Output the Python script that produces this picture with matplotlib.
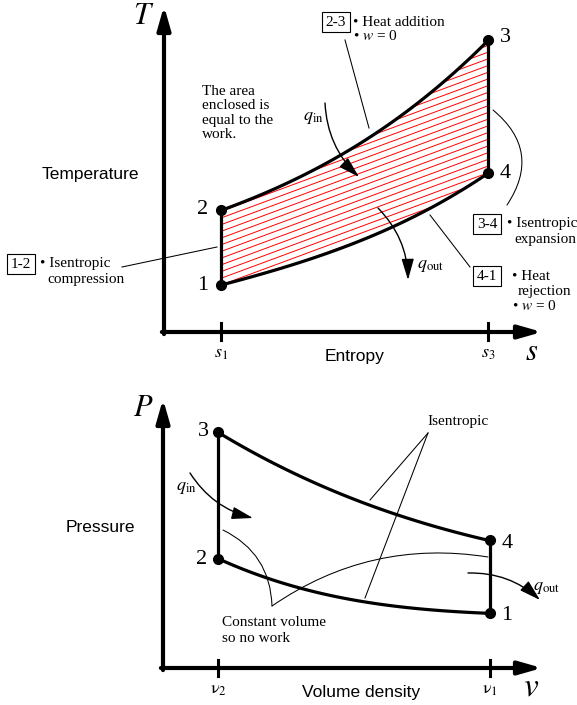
import numpy as np
import matplotlib.pyplot as plt
from matplotlib.patches import Polygon

plt.rcParams['font.family'] = ['Liberation Serif', 'DejaVu Serif']
plt.rcParams['mathtext.fontset'] = 'stix'

# T-s diagram (axis corner at 0,0), states 1..4
s1, s3 = 57, 324
T_states = [47, 122, 292, 159]
s_states = [s1, s1, s3, s3]
s_path = [57, 84, 118, 151, 186, 219, 253, 286, 324]
T_23 = [122, 132, 145, 162, 185, 204, 227, 255, 292]   # heat addition 2 -> 3
T_14 = [47, 54, 64, 75, 86, 102, 117, 134, 159]        # heat rejection 1 -> 4

# P-v diagram (axis corner at 0,0), states 1..4
v2, v1 = 55, 327
v_states = [v1, v2, v2, v1]
P_states = [55, 109, 236, 128]
v_path = [55, 80, 114, 147, 187, 220, 254, 287, 327]
P_34 = [236, 221, 203, 186, 171, 160, 146, 136, 128]   # isentropic expansion
P_21 = [109, 100, 86, 76, 70, 64, 59, 56, 55]          # isentropic compression

state_names = ['1', '2', '3', '4']


def smooth(x, y, n=120):
    # least squares cubic through the points, for drawing only
    c = np.polyfit(x, y, 3)
    xx = np.linspace(x[0], x[-1], n)
    return xx, np.polyval(c, xx)


fig = plt.figure(figsize=(5.77, 7.05), dpi=100)
ax1 = fig.add_axes([0, 340 / 705, 1, 365 / 705])
ax1.set_xlim(-164, 413)
ax1.set_ylim(-33, 332)
ax2 = fig.add_axes([0, 0, 1, 340 / 705])
ax2.set_xlim(-163, 414)
ax2.set_ylim(-37, 303)
for ax in (ax1, ax2):
    ax.axis('off')

CYC = dict(color='black', lw=2.3, solid_capstyle='round')
AXIS_ARROW = dict(arrowstyle='-|>,head_length=1.4,head_width=0.4', lw=3,
                  color='black', shrinkA=0, shrinkB=0)
SMALL_ARROW = dict(arrowstyle='-|>,head_length=1.3,head_width=0.38', lw=1,
                   color='black', shrinkA=0, shrinkB=0)
LEADER = dict(color='black', lw=0.75)
BOX = dict(boxstyle='square,pad=0.25', fc='white', ec='black', lw=0.8)
SANS = ['Liberation Sans', 'DejaVu Sans']
NUM = 16

# ---------------- T-s ----------------
ax1.annotate('', xy=(0, 326), xytext=(0, -2.1), arrowprops=AXIS_ARROW)
ax1.annotate('', xy=(378, 0), xytext=(-2.1, 0), arrowprops=AXIS_ARROW)
for s in (s1, s3):
    ax1.plot([s, s], [9, -8], color='black', lw=2.2)

ss, tt23 = smooth(s_path, T_23)
_, tt14 = smooth(s_path, T_14)

# hatching of the enclosed area
poly = Polygon(np.column_stack([np.r_[ss, ss[::-1]], np.r_[tt23, tt14[::-1]]]),
               closed=True, transform=ax1.transData)
xs = np.array([0, 400])
for k in range(-3, 24):
    ln, = ax1.plot(xs, T_states[0] + 0.37 * (xs - s1) + 6.7 * k, color='red', lw=0.7)
    ln.set_clip_path(poly)

ax1.plot([s1, s1], [tt14[0], tt23[0]], **CYC)
ax1.plot(ss, tt23, **CYC)
ax1.plot([s3, s3], [tt23[-1], tt14[-1]], **CYC)
ax1.plot(ss, tt14, **CYC)
ax1.plot(s_states, T_states, 'o', color='black', ms=7, zorder=5)

for name, pos in zip(state_names, [(39, 46), (39, 123), (341, 294), (341, 159)]):
    ax1.text(*pos, name, fontsize=NUM, ha='center', va='center')

ax1.text(-20, 315, '$T$', fontsize=22, ha='center', va='center')
ax1.text(368, -20, '$s$', fontsize=22, ha='center', va='center')
ax1.text(s1, -22, '$s_1$', fontsize=13, ha='center', va='center')
ax1.text(s3, -22, '$s_3$', fontsize=13, ha='center', va='center')
ax1.text(-74, 157, 'Temperature', fontsize=12.5, family=SANS, ha='center', va='center')
ax1.text(191, -25, 'Entropy', fontsize=12.5, family=SANS, ha='center', va='center')

ax1.text(38, 219, 'The area\nenclosed is\nequal to the\nwork.', fontsize=11,
         ha='left', va='center', linespacing=1.12)

ax1.text(149, 214, r'$q_\mathrm{in}$', fontsize=13, ha='center', va='center')
ax1.annotate('', xy=(195, 155), xytext=(161, 229), arrowprops=dict(
    SMALL_ARROW, connectionstyle='arc3,rad=0.2'))
ax1.text(253, 67, r'$q_\mathrm{out}$', fontsize=13, ha='left', va='center')
ax1.annotate('', xy=(244, 52), xytext=(214, 124), arrowprops=dict(
    SMALL_ARROW, connectionstyle='arc3,rad=-0.2'))

# 2-3
ax1.text(172, 310, '2-3', fontsize=11, ha='center', va='center', bbox=BOX)
ax1.text(189, 310, '• Heat addition', fontsize=11, ha='left', va='center')
ax1.text(189, 296, '• $w$ = 0', fontsize=11, ha='left', va='center')
ax1.plot([181, 205], [292, 204], **LEADER)
# 3-4
ax1.annotate('', xy=(343, 127), xytext=(329, 222), arrowprops=dict(
    arrowstyle='-', lw=0.75, color='black', shrinkA=0, shrinkB=0,
    connectionstyle='arc3,rad=-0.45'))
ax1.text(323, 108, '3-4', fontsize=11, ha='center', va='center', bbox=BOX)
ax1.text(343, 108, '• Isentropic', fontsize=11, ha='left', va='center')
ax1.text(350, 93, 'expansion', fontsize=11, ha='left', va='center')
# 4-1
ax1.plot([266, 306], [117, 65], **LEADER)
ax1.text(323, 56, '4-1', fontsize=11, ha='center', va='center', bbox=BOX)
ax1.text(348, 56, '• Heat', fontsize=11, ha='left', va='center')
ax1.text(354, 41, 'rejection', fontsize=11, ha='left', va='center')
ax1.text(348, 26, '• $w$ = 0', fontsize=11, ha='left', va='center')
# 1-2
ax1.plot([-42, 53], [65, 85], **LEADER)
ax1.text(-143, 68, '1-2', fontsize=11, ha='center', va='center', bbox=BOX)
ax1.text(-124, 68, '• Isentropic', fontsize=11, ha='left', va='center')
ax1.text(-117, 53, 'compression', fontsize=11, ha='left', va='center')

# ---------------- P-v ----------------
ax2.annotate('', xy=(0, 269), xytext=(0, -2.1), arrowprops=AXIS_ARROW)
ax2.annotate('', xy=(379, 0), xytext=(-2.1, 0), arrowprops=AXIS_ARROW)
for v in (v2, v1):
    ax2.plot([v, v], [8, -8], color='black', lw=2.2)

vv, pp34 = smooth(v_path, P_34)
_, pp21 = smooth(v_path, P_21)
ax2.plot([v2, v2], [pp21[0], pp34[0]], **CYC)
ax2.plot(vv, pp34, **CYC)
ax2.plot([v1, v1], [pp34[-1], pp21[-1]], **CYC)
ax2.plot(vv, pp21, **CYC)
ax2.plot(v_states, P_states, 'o', color='black', ms=7, zorder=5)

for name, pos in zip(state_names, [(344, 53), (39, 108), (40, 236), (344, 125)]):
    ax2.text(*pos, name, fontsize=NUM, ha='center', va='center')

ax2.text(-20, 259, '$P$', fontsize=22, ha='center', va='center')
ax2.text(368, -19, '$v$', fontsize=24, ha='center', va='center')
ax2.text(v2, -22, r'$\mathrm{\nu}_2$', fontsize=13, ha='center', va='center')
ax2.text(v1, -22, r'$\mathrm{\nu}_1$', fontsize=13, ha='center', va='center')
ax2.text(-63, 141, 'Pressure', fontsize=12.5, family=SANS, ha='center', va='center')
ax2.text(198, -25, 'Volume density', fontsize=12.5, family=SANS, ha='center', va='center')

ax2.text(295, 246, 'Isentropic', fontsize=11, ha='center', va='center')
ax2.plot([265, 207], [235, 168], **LEADER)
ax2.plot([265, 202], [235, 70], **LEADER)

ax2.text(23, 180, r'$q_\mathrm{in}$', fontsize=13, ha='center', va='center')
ax2.annotate('', xy=(90, 150), xytext=(27, 195), arrowprops=dict(
    SMALL_ARROW, connectionstyle='arc3,rad=0.2'))
ax2.text(370, 80, r'$q_\mathrm{out}$', fontsize=13, ha='left', va='center')
ax2.annotate('', xy=(377, 68), xytext=(305, 95), arrowprops=dict(
    SMALL_ARROW, connectionstyle='arc3,rad=-0.2'))

ax2.text(59, 46, 'Constant volume', fontsize=11, ha='left', va='center')
ax2.text(59, 30, 'so no work', fontsize=11, ha='left', va='center')
for start, end, rad in [((60, 138), (109, 62), -0.3), ((109, 62), (325, 111), -0.2)]:
    ax2.annotate('', xy=end, xytext=start, arrowprops=dict(
        arrowstyle='-', lw=0.75, color='black', shrinkA=0, shrinkB=0,
        connectionstyle=f'arc3,rad={rad}'))

fig.savefig('out.png', dpi=100)
